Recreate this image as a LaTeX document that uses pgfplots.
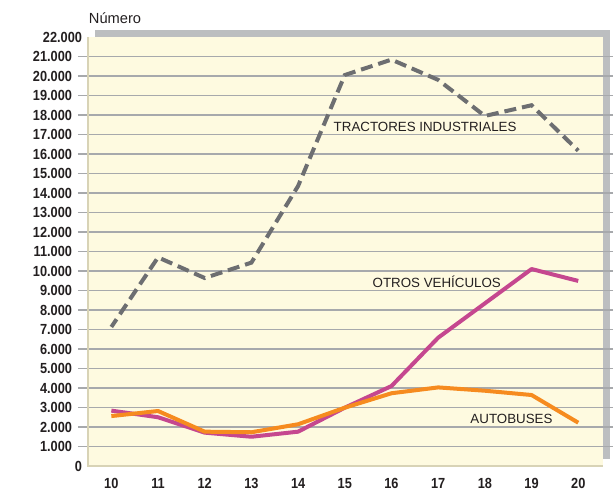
\documentclass[border=0pt]{standalone}
\usepackage{pgfplots}
\pgfplotsset{compat=1.18}
\usepackage{fontspec}
\setmainfont{Liberation Sans}
\newfontfamily\condfont[FakeStretch=0.87]{Liberation Sans}
\definecolor{plotbg}{HTML}{FEFAE0}
\definecolor{shadowgray}{HTML}{BCBEC0}
\definecolor{gridgray}{HTML}{A7A9AC}
\definecolor{bordercol}{HTML}{D8D3B6}
\definecolor{tractcol}{HTML}{6D6E71}
\definecolor{otroscol}{HTML}{C5478F}
\definecolor{autocol}{HTML}{F68B1F}
\definecolor{textcol}{HTML}{231F20}
\begin{document}
\begin{tikzpicture}
\useasboundingbox (-66pt,-19.5pt) rectangle (395.25pt,349.5pt);
\fill[shadowgray] (5.25pt,5.25pt) rectangle (391.5pt,327pt);
\begin{axis}[
  at={(0,0)}, anchor=south west,
  scale only axis, width=386.25pt, height=321.75pt,
  xmin=9.5, xmax=20.53, ymin=0, ymax=22000,
  scaled y ticks=false, scaled x ticks=false,
  axis background/.style={fill=plotbg},
  axis line style={draw=none},
  xtick={10,...,20},
  xticklabels={10,11,12,13,14,15,16,17,18,19,20},
  ytick={1000,2000,...,21000},
  yticklabels={1.000,2.000,3.000,4.000,5.000,6.000,7.000,8.000,9.000,10.000,11.000,12.000,13.000,14.000,15.000,16.000,17.000,18.000,19.000,20.000,21.000},
  extra y ticks={0,22000},
  extra y tick labels={0,22.000},
  extra y tick style={major tick length=0pt, ymajorgrids=false},
  ymajorgrids,
  major grid style={draw=gridgray, line width=1.1pt},
  y tick style={draw=gridgray, line width=1.1pt},
  x tick style={draw=none},
  tick align=outside,
  major tick length=7.5pt,
  /pgf/number format/assume math mode=true,
  tick label style={font=\condfont\bfseries\fontsize{11}{13}\selectfont, text=textcol},
  yticklabel style={xshift=-1pt},
  xticklabel style={yshift=2pt},
  clip=false,
]
\draw[bordercol, line width=1.5pt] (rel axis cs:0,1) -- (rel axis cs:0,0) -- (rel axis cs:1,0);
\addplot[otroscol, line width=3pt, line join=round] coordinates {
(10,2840) (11,2500) (12,1710) (13,1500) (14,1760) (15,2990) (16,4100) (17,6580) (18,8340) (19,10100) (20,9490)};
\addplot[autocol, line width=3pt, line join=round] coordinates {
(10,2560) (11,2820) (12,1760) (13,1730) (14,2140) (15,2990) (16,3730) (17,4030) (18,3860) (19,3640) (20,2220)};
\addplot[tractcol, line width=3pt, dash pattern=on 9pt off 4.5pt, dash phase=2pt] coordinates {
(10,7130) (11,10700) (12,9640) (13,10430) (14,14360) (15,20050) (16,20840) (17,19800) (18,17950) (19,18500) (20,16170)};
\node[font=\fontsize{10}{12}\selectfont, text=textcol] at (axis cs:16.72,17370) {TRACTORES INDUSTRIALES};
\node[font=\fontsize{10}{12}\selectfont, text=textcol] at (axis cs:16.97,9450) {OTROS VEHÍCULOS};
\node[font=\fontsize{10}{12}\selectfont, text=textcol] at (axis cs:18.57,2410) {AUTOBUSES};
\end{axis}
\node[font=\fontsize{11}{13}\selectfont, text=textcol] at (20.25pt,336pt) {Número};
\end{tikzpicture}
\end{document}
